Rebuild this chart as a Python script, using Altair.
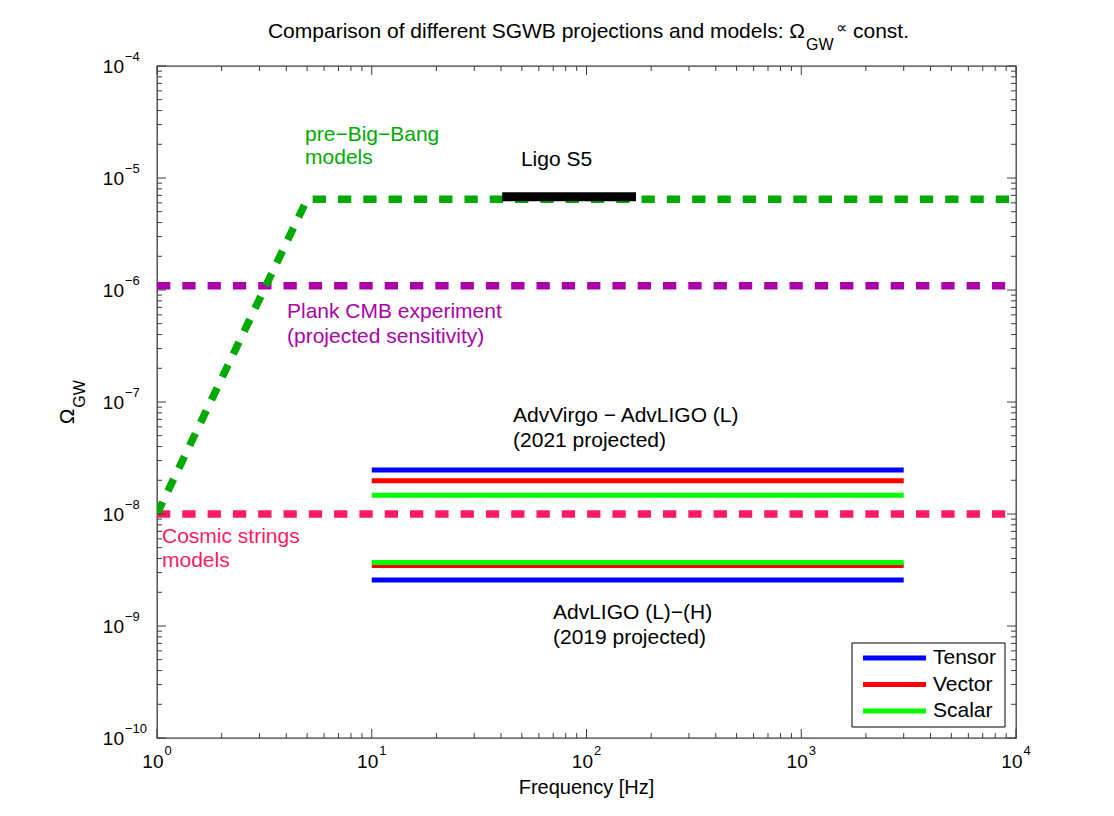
import altair as alt
import pandas as pd

# ---------------- data ----------------
pbb_freq = [1.0, 5.0, 10000.0]
pbb_omega = [1.0e-8, 6.45e-6, 6.45e-6]
ligo_freq = [40.5, 170.0]
ligo_omega = [6.8e-6, 6.8e-6]
plank_freq = [1.0, 10000.0]
plank_omega = [1.09e-6, 1.09e-6]
cosmic_freq = [1.0, 10000.0]
cosmic_omega = [1.0e-8, 1.0e-8]

series_names = ["Tensor", "Vector", "Scalar"]
virgo_freq = [10.0, 3000.0]
virgo_omega = [2.47e-8, 1.98e-8, 1.47e-8]
lho_freq = [10.0, 3000.0]
lho_omega = [2.58e-9, 3.47e-9, 3.69e-9]

x_major = [1, 10, 100, 1000, 10000]
x_exp = ["0", "1", "2", "3", "4"]
y_major = [1e-10, 1e-9, 1e-8, 1e-7, 1e-6, 1e-5, 1e-4]
y_exp = ["\u221210", "\u22129", "\u22128", "\u22127", "\u22126", "\u22125", "\u22124"]
minor_mult = [2, 3, 4, 5, 6, 7, 8, 9]

pbb_text = ["pre\u2212Big\u2212Bang", "models"]
pbb_text_freq = [4.89, 4.89]
pbb_text_omega = [2.42e-5, 1.51e-5]
ligo_text = ["Ligo S5"]
ligo_text_freq = [49.5]
ligo_text_omega = [1.45e-5]
plank_text = ["Plank CMB experiment", "(projected sensitivity)"]
plank_text_freq = [4.03, 4.03]
plank_text_omega = [6.37e-7, 3.8e-7]
virgo_text = ["AdvVirgo \u2212 AdvLIGO (L)", "(2021 projected)"]
virgo_text_freq = [45.5, 45.5]
virgo_text_omega = [7.5e-8, 4.49e-8]
cosmic_text = ["Cosmic strings", "models"]
cosmic_text_freq = [1.055, 1.055]
cosmic_text_omega = [6.24e-9, 3.8e-9]
lho_text = ["AdvLIGO (L)\u2212(H)", "(2019 projected)"]
lho_text_freq = [69.8, 69.8]
lho_text_omega = [1.31e-9, 7.8e-10]

# ---------------- styling ----------------
FONT = "Liberation Sans"
W, H = 859, 672
XS = alt.Scale(type="log", domain=[1, 1e4], nice=False)
YS = alt.Scale(type="log", domain=[1e-10, 1e-4], nice=False)
C_GREEN_D = "#00aa00"
C_PURPLE = "#aa00aa"
C_PINK = "#ff1a66"
C_BLUE = "#0000ff"
C_RED = "#ff0000"
C_GREEN = "#00ff00"
SERIES_COLORS = [C_BLUE, C_RED, C_GREEN]
AX = "#3c3c3c"
DASH = [13.3, 12]

one = pd.DataFrame({"a": [0]})


def line(freq, omega, color, width, dash=None):
    df = pd.DataFrame({"f": freq, "o": omega})
    kw = dict(color=color, strokeWidth=width, strokeCap="butt", clip=True)
    if dash:
        kw["strokeDash"] = dash
    return alt.Chart(df).mark_line(**kw).encode(
        x=alt.X("f:Q", scale=XS, axis=None),
        y=alt.Y("o:Q", scale=YS, axis=None),
    )


def label(texts, freq, omega, color):
    df = pd.DataFrame({"t": texts, "f": freq, "o": omega})
    return alt.Chart(df).mark_text(
        font=FONT, fontSize=21, align="left", baseline="middle", color=color
    ).encode(
        x=alt.X("f:Q", scale=XS, axis=None),
        y=alt.Y("o:Q", scale=YS, axis=None),
        text="t:N",
    )


layers = []

# data lines
layers.append(line(plank_freq, plank_omega, C_PURPLE, 7.5, DASH))
layers.append(line(cosmic_freq, cosmic_omega, C_PINK, 7.5, DASH))
layers.append(line(pbb_freq, pbb_omega, C_GREEN_D, 7.5, DASH))
layers.append(line(ligo_freq, ligo_omega, "#000000", 9))
for name, om, col in zip(series_names, virgo_omega, SERIES_COLORS):
    layers.append(line(virgo_freq, [om, om], col, 5))
for name, om, col in zip(series_names, lho_omega, SERIES_COLORS):
    layers.append(line(lho_freq, [om, om], col, 5))

# annotations
layers.append(label(pbb_text, pbb_text_freq, pbb_text_omega, C_GREEN_D))
layers.append(label(ligo_text, ligo_text_freq, ligo_text_omega, "#000000"))
layers.append(label(plank_text, plank_text_freq, plank_text_omega, C_PURPLE))
layers.append(label(virgo_text, virgo_text_freq, virgo_text_omega, "#000000"))
layers.append(label(cosmic_text, cosmic_text_freq, cosmic_text_omega, C_PINK))
layers.append(label(lho_text, lho_text_freq, lho_text_omega, "#000000"))

# ticks (inward, all four sides)
x_minor = [m * d for d in x_major[:-1] for m in minor_mult]
y_minor = [m * d for d in y_major[:-1] for m in minor_mult]
xmaj = pd.DataFrame({"v": x_major, "e": x_exp})
ymaj = pd.DataFrame({"v": y_major, "e": y_exp})
xmin = pd.DataFrame({"v": x_minor})
ymin = pd.DataFrame({"v": y_minor})

for df, ln in ((xmaj, 9), (xmin, 5)):
    layers.append(alt.Chart(df).mark_rule(color=AX, strokeWidth=1).encode(
        x=alt.X("v:Q", scale=XS, axis=None), y=alt.value(H), y2=alt.value(H - ln)))
    layers.append(alt.Chart(df).mark_rule(color=AX, strokeWidth=1).encode(
        x=alt.X("v:Q", scale=XS, axis=None), y=alt.value(0), y2=alt.value(ln)))
for df, ln in ((ymaj, 9), (ymin, 5)):
    layers.append(alt.Chart(df).mark_rule(color=AX, strokeWidth=1).encode(
        y=alt.Y("v:Q", scale=YS, axis=None), x=alt.value(0), x2=alt.value(ln)))
    layers.append(alt.Chart(df).mark_rule(color=AX, strokeWidth=1).encode(
        y=alt.Y("v:Q", scale=YS, axis=None), x=alt.value(W), x2=alt.value(W - ln)))

# tick labels  10^k
layers.append(alt.Chart(xmaj).mark_text(font=FONT, fontSize=19, align="right", baseline="middle", dx=6.5, color="#000").encode(
    x=alt.X("v:Q", scale=XS, axis=None), y=alt.value(H + 23.5), text=alt.value("10")))
layers.append(alt.Chart(xmaj).mark_text(font=FONT, fontSize=13, align="left", baseline="middle", dx=7.5, color="#000").encode(
    x=alt.X("v:Q", scale=XS, axis=None), y=alt.value(H + 13), text="e:N"))
layers.append(alt.Chart(ymaj).mark_text(font=FONT, fontSize=19, align="right", baseline="middle", dy=1, color="#000").encode(
    y=alt.Y("v:Q", scale=YS, axis=None), x=alt.value(-33), text=alt.value("10")))
layers.append(alt.Chart(ymaj).mark_text(font=FONT, fontSize=13, align="left", baseline="middle", dy=-9, color="#000").encode(
    y=alt.Y("v:Q", scale=YS, axis=None), x=alt.value(-32), text="e:N"))

# axis titles
layers.append(alt.Chart(one).mark_text(font=FONT, fontSize=20, align="center", baseline="middle", color="#000").encode(
    x=alt.value(W / 2), y=alt.value(H + 50), text=alt.value("Frequency [Hz]")))
layers.append(alt.Chart(one).mark_text(font=FONT, fontSize=21, align="center", baseline="middle", color="#000").encode(
    x=alt.value(-89.5), y=alt.value(350.5), angle=alt.value(270), text=alt.value("\u03a9")))
layers.append(alt.Chart(one).mark_text(font=FONT, fontSize=16, align="center", baseline="middle", color="#000").encode(
    x=alt.value(-77), y=alt.value(328), angle=alt.value(270), text=alt.value("GW")))

# title
layers.append(alt.Chart(one).mark_text(font=FONT, fontSize=21, align="right", baseline="alphabetic", color="#000").encode(
    x=alt.value(648), y=alt.value(-28), text=alt.value("Comparison of different SGWB projections and models: \u03a9")))
layers.append(alt.Chart(one).mark_text(font=FONT, fontSize=16, align="left", baseline="alphabetic", color="#000").encode(
    x=alt.value(649), y=alt.value(-16), text=alt.value("GW")))
layers.append(alt.Chart(one).mark_text(font=FONT, fontSize=16, align="left", baseline="alphabetic", color="#000").encode(
    x=alt.value(679), y=alt.value(-33), text=alt.value("\u221d")))
layers.append(alt.Chart(one).mark_text(font=FONT, fontSize=21, align="left", baseline="alphabetic", color="#000").encode(
    x=alt.value(696), y=alt.value(-28), text=alt.value("const.")))

# legend box
layers.append(alt.Chart(one).mark_rect(fill="white", stroke="#000", strokeWidth=1).encode(
    x=alt.value(695), x2=alt.value(848), y=alt.value(577), y2=alt.value(661)))
for i, (name, col) in enumerate(zip(series_names, SERIES_COLORS)):
    yy = 592 + 26.5 * i
    layers.append(alt.Chart(one).mark_rule(color=col, strokeWidth=5).encode(
        x=alt.value(706), x2=alt.value(769), y=alt.value(yy)))
    layers.append(alt.Chart(one).mark_text(font=FONT, fontSize=21, align="left", baseline="middle", color="#000").encode(
        x=alt.value(776), y=alt.value(yy), text=alt.value(name)))

chart = alt.layer(*layers).properties(
    width=W,
    height=H,
    autosize=alt.AutoSizeParams(type="none"),
    padding={"left": 149, "top": 58, "right": 90, "bottom": 70},
    background="white",
).configure_view(stroke=AX, strokeWidth=1.3)

chart.save("out.html", embed_options={"renderer": "svg", "actions": False})
